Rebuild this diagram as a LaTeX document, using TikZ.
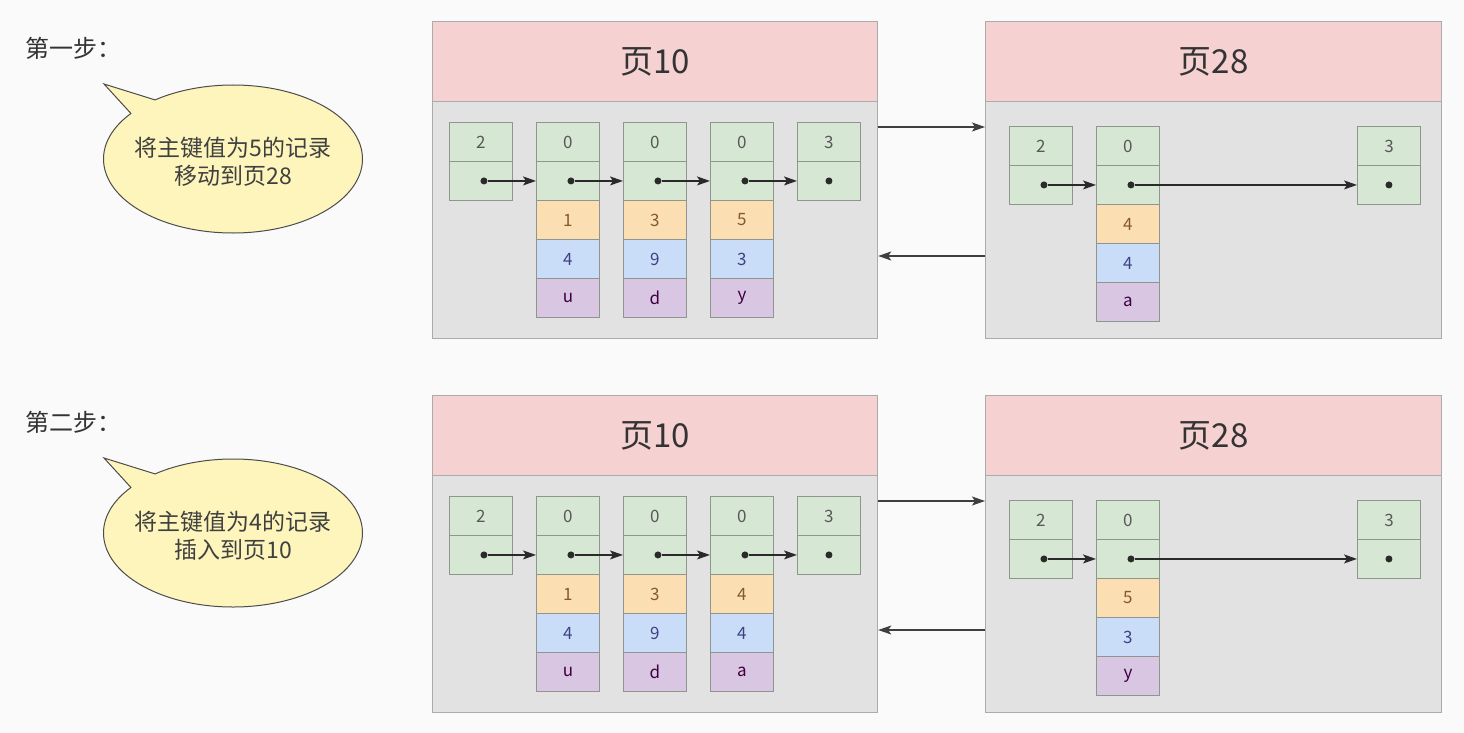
\documentclass[tikz,border=0pt]{standalone}
\usepackage{fontspec}
\setmainfont{Noto Sans CJK SC}
\usetikzlibrary{arrows.meta}
\usetikzlibrary{shapes.callouts}

\definecolor{bgcol}{HTML}{FBFAFA}
\definecolor{pghead}{HTML}{F6D1D1}
\definecolor{pgbody}{HTML}{E2E2E2}
\definecolor{pgline}{HTML}{ABABAB}
\definecolor{cellline}{HTML}{8E968E}
\definecolor{greenf}{HTML}{D6E7D3}
\definecolor{orangef}{HTML}{FBDFB3}
\definecolor{bluef}{HTML}{C9DDF8}
\definecolor{purplef}{HTML}{D9C6E3}
\definecolor{bubblef}{HTML}{FDF5BB}
\definecolor{inkcol}{HTML}{2A2A2A}

\begin{document}
\begin{tikzpicture}[x=1pt,y=-1pt,>={Stealth[length=13pt,width=9pt,inset=3pt]},
  every node/.style={font=\fontsize{17}{19}\selectfont},
  cell/.style={draw=cellline,line width=0.9pt,anchor=north west,minimum width=63pt,minimum height=39pt,inner sep=0pt},
  gcell/.style={cell,fill=greenf,text=black!65},
  ocell/.style={cell,fill=orangef,text=brown!70!black},
  bcell/.style={cell,fill=bluef,text=blue!35!black!75},
  pcell/.style={cell,fill=purplef,text=violet!50!black},
  pagebox/.style={draw=pgline,fill=pgbody,line width=1.2pt,anchor=north west,minimum height=317pt,inner sep=0pt},
  pagehead/.style={draw=pgline,fill=pghead,line width=1.2pt,anchor=north west,minimum height=80pt,inner sep=0pt,font=\fontsize{33}{36}\selectfont,text=black!80},
  ptrdot/.style={circle,fill=inkcol,inner sep=0pt,minimum size=7pt},
  link/.style={->,draw=inkcol,line width=1.2pt},
  pagelink/.style={->,draw=inkcol!90,line width=1.3pt},
  bubble/.style={ellipse callout,draw=black!70,fill=bubblef,line width=1pt,minimum width=259pt,minimum height=148pt,inner sep=0pt},
  bubbletext/.style={align=center,inner sep=0pt,font=\fontsize{23}{28}\selectfont,text=black!75},
  steplabel/.style={anchor=west,inner sep=0pt,font=\fontsize{24}{28}\selectfont,text=black!80}]

  \fill[bgcol] (0,0) rectangle (1464,733);
  \useasboundingbox (0,0) rectangle (1464,733);

  \foreach \s/\dy/\lab/\msg/\ta/\tb/\tc/\qa/\qb/\qc in {
      1/0/第一步：/{将主键值为5的记录\\移动到页28}/5/3/y/4/4/a,
      2/374/第二步：/{将主键值为4的记录\\插入到页10}/4/4/a/5/3/y} {
  \begin{scope}[shift={(0,\dy)}]
    % step label and bubble
    \node[steplabel] (lab\s) at (25,48) {\lab};
    \coordinate (tip\s) at (104,84);
    \node[bubble,callout absolute pointer={(tip\s)}] (msg\s) at (233,159) {};
    \node[bubbletext,yshift=-3pt] (txt\s) at (msg\s.center) {\msg};

    % pages
    \node[pagebox,minimum width=445pt] (p10s\s) at (432,21) {};
    \node[pagehead,minimum width=445pt] (h10s\s) at (432,21) {页10};
    \node[pagebox,minimum width=456pt] (p28s\s) at (985,21) {};
    \node[pagehead,minimum width=456pt] (h28s\s) at (985,21) {页28};

    % page 10 records
    \node[gcell] (ia\s) at (449,122) {2};
    \node[gcell] (ib\s) at (449,161) {};
    \node[ptrdot,xshift=3pt] (di\s) at (ib\s.center) {};
    \foreach \k/\x/\a/\b/\c in {1/536/1/4/u, 2/623/3/9/d, 3/710/\ta/\tb/\tc} {
      \node[gcell] (r\k-\s-0) at (\x,122) {0};
      \node[gcell] (r\k-\s-1) at (\x,161) {};
      \node[ocell] (r\k-\s-2) at (\x,200) {\a};
      \node[bcell] (r\k-\s-3) at (\x,239) {\b};
      \node[pcell] (r\k-\s-4) at (\x,278) {\c};
      \node[ptrdot,xshift=3pt] (d\k-\s) at (r\k-\s-1.center) {};
    }
    \node[gcell] (ua\s) at (797,122) {3};
    \node[gcell] (ub\s) at (797,161) {};
    \node[ptrdot] (du\s) at (ub\s.center) {};

    \draw[link] (di\s) -- (r1-\s-1.west);
    \draw[link] (d1-\s) -- (r2-\s-1.west);
    \draw[link] (d2-\s) -- (r3-\s-1.west);
    \draw[link] (d3-\s) -- (ub\s.west);

    % page 28 records
    \node[gcell] (ja\s) at (1009,126) {2};
    \node[gcell] (jb\s) at (1009,165) {};
    \node[ptrdot,xshift=3pt] (dj\s) at (jb\s.center) {};
    \node[gcell] (q\s-0) at (1096,126) {0};
    \node[gcell] (q\s-1) at (1096,165) {};
    \node[ocell] (q\s-2) at (1096,204) {\qa};
    \node[bcell] (q\s-3) at (1096,243) {\qb};
    \node[pcell] (q\s-4) at (1096,282) {\qc};
    \node[ptrdot,xshift=3pt] (dq\s) at (q\s-1.center) {};
    \node[gcell] (va\s) at (1357,126) {3};
    \node[gcell] (vb\s) at (1357,165) {};
    \node[ptrdot] (dv\s) at (vb\s.center) {};

    \draw[link] (dj\s) -- (q\s-1.west);
    \draw[link] (dq\s) -- (vb\s.west);

    % links between the pages
    \draw[pagelink] ([yshift=-106pt]p10s\s.north east) -- ([yshift=-106pt]p28s\s.north west);
    \draw[pagelink] ([yshift=-235pt]p28s\s.north west) -- ([yshift=-235pt]p10s\s.north east);
  \end{scope}
  }
\end{tikzpicture}
\end{document}
